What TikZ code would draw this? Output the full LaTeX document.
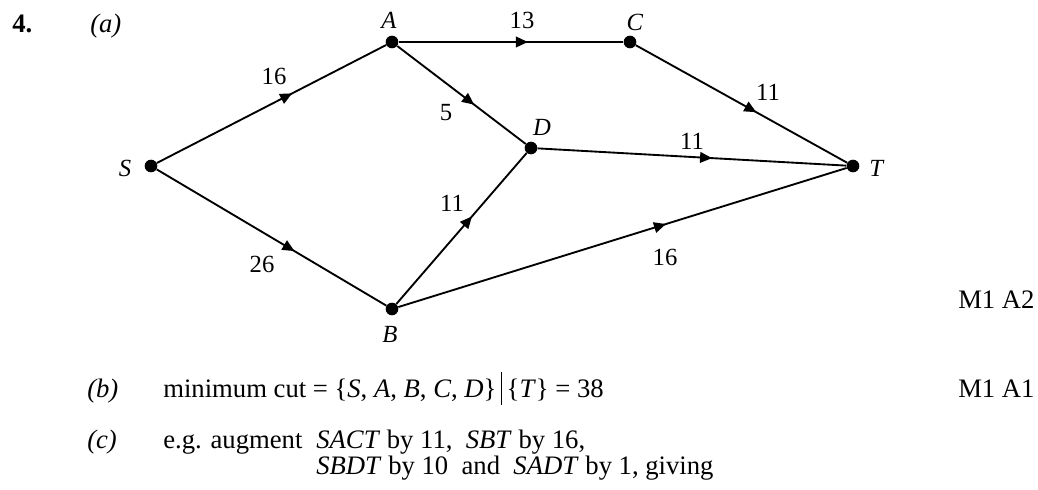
\documentclass[tikz,border=0pt]{standalone}
\usepackage{fontspec}
\setmainfont{Liberation Serif}
\usetikzlibrary{arrows.meta,decorations.markings}
\tikzset{
  vtx/.style={circle,fill=black,inner sep=0pt,minimum size=9.5pt},
  edge/.style={line width=1.4pt,postaction={decorate},decoration={markings,
    mark=at position #1 with {\arrow{Triangle[length=9pt,width=8pt]}}}},
  edge/.default=0.59,
  lbl/.style={inner sep=0pt,font=\fontsize{18.5}{21}\selectfont},
  txt/.style={inner sep=0pt,anchor=base west,font=\fontsize{20}{23}\selectfont}
}
\begin{document}
\begin{tikzpicture}[x=0.75pt,y=-0.75pt]
\useasboundingbox (0,0) rectangle (1038,489);
% vertices
\node[vtx] (S) at (151,166) {};
\node[vtx] (A) at (392,42) {};
\node[vtx] (C) at (630,42) {};
\node[vtx] (D) at (531,148) {};
\node[vtx] (T) at (853,166) {};
\node[vtx] (B) at (392,309) {};
% vertex labels
\node[lbl] (lS) at (125,168) {\textit{S}};
\node[lbl] (lA) at (389,20) {\textit{A}};
\node[lbl] (lC) at (635,22) {\textit{C}};
\node[lbl] (lD) at (542,127) {\textit{D}};
\node[lbl] (lT) at (877,168) {\textit{T}};
\node[lbl] (lB) at (390,334) {\textit{B}};
% edges
\draw[edge=0.59] (S) -- (A);
\draw[edge=0.575] (A) -- (C);
\draw[edge=0.60] (A) -- (D);
\draw[edge=0.57] (C) -- (T);
\draw[edge=0.565] (D) -- (T);
\draw[edge=0.60] (S) -- (B);
\draw[edge=0.58] (B) -- (D);
\draw[edge=0.597] (B) -- (T);
% edge labels
\node[lbl] (w1) at (274,76) {16};
\node[lbl] (w2) at (522,20) {13};
\node[lbl] (w3) at (446,113) {5};
\node[lbl] (w4) at (768,92) {11};
\node[lbl] (w5) at (692,141) {11};
\node[lbl] (w6) at (452,203) {11};
\node[lbl] (w7) at (262,264) {26};
\node[lbl] (w8) at (665,257) {16};
% texts
\node[txt] (q) at (12,32) {\textbf{4.}};
\node[txt] (pa) at (90,32) {\textit{(a)}};
\node[txt] (m1) at (958,308) {M1 A2};
\node[txt] (pb) at (87,397) {\textit{(b)}};
\node[txt] (tb) at (163,397) {minimum cut = \{\textit{S}, \textit{A}, \textit{B}, \textit{C}, \textit{D}\}\,\rule[-6pt]{1pt}{25pt}\,\{\textit{T}\} = 38};
\node[txt] (m2) at (958,397) {M1 A1};
\node[txt] (pc) at (87,448) {\textit{(c)}};
\node[txt] (eg) at (163,448) {e.g. augment};
\node[txt] (tc1) at ([xshift=10pt]eg.base east) {\textit{SACT} by 11,\ \ \textit{SBT} by 16,};
\node[txt] (tc2) at (tc1.base west |- 0,474) {\textit{SBDT} by 10\ \ and\ \ \textit{SADT} by 1, giving};
\end{tikzpicture}
\end{document}
